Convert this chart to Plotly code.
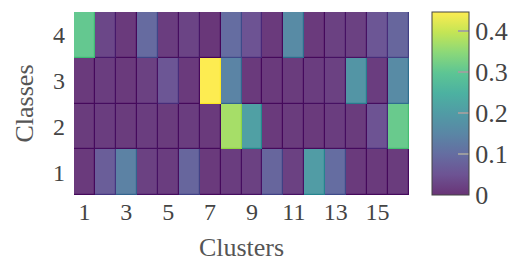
import plotly.graph_objects as go
import plotly.colors as pc

clusters = list(range(1, 17))
classes = [1, 2, 3, 4]

# values per class (rows), per cluster (columns)
class1 = [0.010, 0.070, 0.140, 0.020, 0.015, 0.085, 0.010, 0.015, 0.020, 0.085, 0.020, 0.200, 0.100, 0.010, 0.010, 0.012]
class2 = [0.012, 0.015, 0.012, 0.015, 0.012, 0.015, 0.010, 0.370, 0.210, 0.010, 0.012, 0.010, 0.015, 0.012, 0.050, 0.310]
class3 = [0.010, 0.015, 0.010, 0.020, 0.055, 0.010, 0.446, 0.145, 0.010, 0.010, 0.012, 0.015, 0.020, 0.185, 0.015, 0.160]
class4 = [0.305, 0.030, 0.010, 0.095, 0.015, 0.025, 0.005, 0.100, 0.050, 0.010, 0.160, 0.010, 0.020, 0.020, 0.055, 0.085]
z = [class1, class2, class3, class4]

zmin, zmax = 0.0, 0.446
cbar_ticks = [0, 0.1, 0.2, 0.3, 0.4]
cbar_text = ["0", "0.1", "0.2", "0.3", "0.4"]
x_ticks = [1, 3, 5, 7, 9, 11, 13, 15]

alpha = 0.8
vir = pc.sequential.Viridis
def fade(c):
    r, g, b = pc.hex_to_rgb(c)
    f = lambda v: round(alpha * v + (1 - alpha) * 255)
    return f"rgb({f(r)},{f(g)},{f(b)})"
n = len(vir)
vir_scale = [[i / (n - 1), c] for i, c in enumerate(vir)]
faded_scale = [[i / (n - 1), fade(c)] for i, c in enumerate(vir)]

FONT = "Liberation Serif"

fig = go.Figure()
# edges layer (full opacity)
fig.add_trace(go.Heatmap(x=clusters, y=classes, z=z, zmin=zmin, zmax=zmax,
                         colorscale=vir_scale, showscale=False, hoverinfo="skip"))
# faded cells
fig.add_trace(go.Heatmap(
    x=clusters, y=classes, z=z, zmin=zmin, zmax=zmax,
    colorscale=faded_scale, xgap=1.2, ygap=1.2,
    colorbar=dict(
        x=1.069, xanchor="left", xpad=0, ypad=0, y=0.5, yanchor="middle",
        len=1, lenmode="fraction", thickness=37, thicknessmode="pixels",
        outlinecolor="#444", outlinewidth=1,
        tickvals=cbar_ticks, ticktext=cbar_text,
        ticks="inside", ticklen=11, tickcolor="rgba(160,160,160,0.9)", tickwidth=1.5,
        tickfont=dict(family=FONT, size=26, color="#444"),
    ),
))

fig.update_layout(
    width=512, height=254,
    margin=dict(l=66, r=111, t=4, b=67, autoexpand=False),
    paper_bgcolor="white", plot_bgcolor="white",
    font=dict(family=FONT, color="#444"),
)
fig.update_xaxes(
    tickvals=x_ticks, ticktext=[str(v) for v in x_ticks],
    showgrid=False, zeroline=False, ticks="", showline=False,
    ticklabelstandoff=0, automargin=False,
    tickfont=dict(family=FONT, size=24, color="#444"),
    title=dict(text="Clusters", font=dict(family=FONT, size=26, color="#555"), standoff=13),
    range=[0.5, 16.5],
)
fig.update_yaxes(
    tickvals=classes, ticktext=[str(v) for v in classes],
    showgrid=False, zeroline=False, ticks="", showline=False,
    ticklabelstandoff=8, automargin=False,
    tickfont=dict(family=FONT, size=24, color="#444"),
    title=dict(text="Classes", font=dict(family=FONT, size=26, color="#555"), standoff=11),
    range=[0.5, 4.5],
)
fig.write_html("out.html")
